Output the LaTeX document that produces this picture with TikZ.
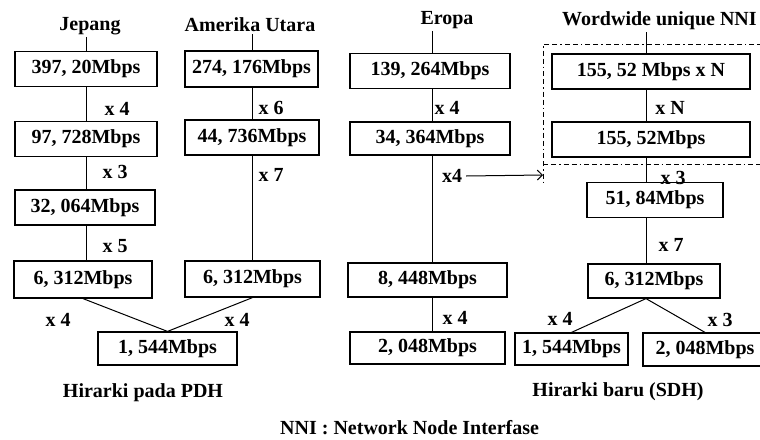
\documentclass[tikz,border=0pt]{standalone}
\usepackage{fontspec}
\setmainfont{Liberation Serif}
\usetikzlibrary{arrows.meta}

\begin{document}
\begin{tikzpicture}[x=1pt, y=-1pt,
  box/.style={draw, line width=1.2pt, minimum width=#1, minimum height=35pt, inner sep=0pt, font=\bfseries\fontsize{20}{22}\selectfont},
  lbl/.style={font=\bfseries\fontsize{20}{22}\selectfont, inner sep=2pt},
  link/.style={line width=1pt},
  frame/.style={line width=1pt, dash pattern=on 5pt off 3pt on 5pt off 3pt on 1.5pt off 3pt}]
\useasboundingbox (0,0) rectangle (760,439);

% sumbu tiap kolom
\coordinate (jx) at (86,0);
\coordinate (ax) at (252,0);
\coordinate (ex) at (432,0);
\coordinate (sx) at (646,0);

% Jepang
\node[lbl] (jp) at (90,26) {Jepang};
\node[box=142] (j1) at (86,69) {397, 20Mbps};
\node[box=142] (j2) at (86,139) {97, 728Mbps};
\node[box=140] (j3) at (85,207.5) {32, 064Mbps};
\node[box=138, minimum height=37pt] (j4) at (83,279.5) {6, 312Mbps};
\node[lbl] (jm1) at (117,109) {x 4};
\node[lbl] (jm2) at (115,172) {x 3};
\node[lbl] (jm3) at (115,246) {x 5};

% Amerika Utara
\node[lbl] (am) at (250,25) {Amerika Utara};
\node[box=133, minimum height=36pt] (a1) at (251.5,69) {274, 176Mbps};
\node[box=134] (a2) at (252,137.5) {44, 736Mbps};
\node[box=135, minimum height=36pt] (a3) at (252.5,279) {6, 312Mbps};
\node[lbl] (am1) at (271,108) {x 6};
\node[lbl] (am2) at (271,175) {x 7};

% gabungan PDH
\node[box=139, minimum height=33pt] (pdh) at (167.5,348.5) {1, 544Mbps};
\node[lbl] (pm1) at (58,320) {x 4};
\node[lbl] (pm2) at (237,320) {x 4};
\node[lbl] (tpdh) at (143,393) {Hirarki pada PDH};

% Eropa
\node[lbl] (ep) at (447,20) {Eropa};
\node[box=160] (e1) at (430,71) {139, 264Mbps};
\node[box=160, minimum height=33pt] (e2) at (430,138.5) {34, 364Mbps};
\node[box=159, minimum height=34pt] (e3) at (427.5,280) {8, 448Mbps};
\node[box=155, minimum height=32pt] (e4) at (427.5,348) {2, 048Mbps};
\node[lbl] (em1) at (447,108) {x 4};
\node[lbl] (em2) at (452,176) {x4};
\node[lbl] (em3) at (455,318) {x 4};

% SDH
\node[lbl, anchor=west] (ww) at (560,21) {Wordwide unique NNI};
\node[box=198] (s1) at (651,71.5) {155, 52 Mbps x N};
\node[box=198] (s2) at (651,139.5) {155, 52Mbps};
\node[box=136] (s3) at (655,200) {51, 84Mbps};
\node[box=132, minimum height=34pt] (s4) at (654,281) {6, 312Mbps};
\node[box=113, minimum height=32pt] (s5) at (571.5,349) {1, 544Mbps};
\node[box=124, minimum height=33pt] (s6) at (705,349.5) {2, 048Mbps};
\node[lbl] (sm1) at (670,108) {x N};
\node[lbl] (sm2) at (673,178) {x 3};
\node[lbl] (sm3) at (671,245) {x 7};
\node[lbl] (sm4) at (560,319) {x 4};
\node[lbl] (sm5) at (720,320) {x 3};
\node[lbl] (tsdh) at (618,392) {Hirarki baru (SDH)};

\node[lbl, anchor=west] (nni) at (278,428) {NNI : Network Node Interfase};

% garis penghubung
\draw[link] (jp.south -| jx) -- (j1.north -| jx);
\foreach \a/\b in {j1/j2, j2/j3, j3/j4}
  \draw[link] (\a.south -| jx) -- (\b.north -| jx);
\draw[link] (am.south -| ax) -- (a1.north -| ax);
\foreach \a/\b in {a1/a2, a2/a3}
  \draw[link] (\a.south -| ax) -- (\b.north -| ax);
\draw[link] (j4.south) -- (pdh.north) -- (a3.south);

\draw[link] (ep.south -| ex) -- (e1.north -| ex);
\foreach \a/\b in {e1/e2, e2/e3, e3/e4}
  \draw[link] (\a.south -| ex) -- (\b.north -| ex);

\draw[link] (ww.south -| sx) -- (s1.north -| sx);
\foreach \a/\b in {s1/s2, s2/s3, s3/s4}
  \draw[link] (\a.south -| sx) -- (\b.north -| sx);
\draw[link] (s5.north) -- (s4.south -| sx) -- (s6.north);

% bingkai NNI
\coordinate (fr) at (543,175);
\draw[frame] (762,44) -- (543,44) -- (543,183);
\draw[frame] (543,164) -- (762,164);
\draw[link, -{Straight Barb[length=5pt, width=10pt]}] (em2.east) ++(2,0) -- (fr);
\end{tikzpicture}
\end{document}
